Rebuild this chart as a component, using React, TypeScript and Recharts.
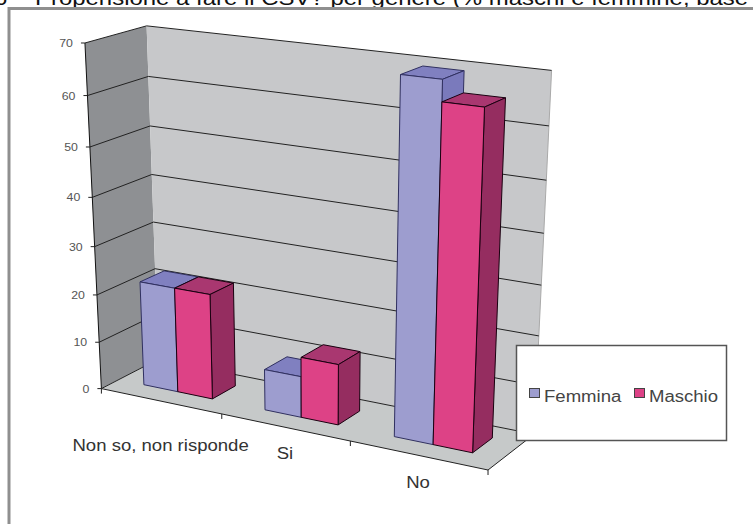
import React from "react";
import { BarChart, Bar, XAxis, YAxis, Legend } from "recharts";

// Chart data
const categories = ["Non so, non risponde", "Si", "No"];
const femmina = [22, 8.5, 69.5];
const maschio = [22, 12.5, 65.5];
const yTicks = [0, 10, 20, 30, 40, 50, 60, 70];
const rows = categories.map((name, i) => ({ name, Femmina: femmina[i], Maschio: maschio[i] }));

const CHART_W = 753;
const CHART_H = 524;
const Y_MAX = 70;
const SANS = "'Liberation Sans', Arial, sans-serif";

// Room calibration: [across, depth, height (0-1), screen x, screen y]
const calibration: number[][] = [
  [0, 0, 1, 84, 43], [0, 0, 6 / 7, 87.3, 96], [0, 0, 5 / 7, 89.7, 147], [0, 0, 4 / 7, 92.3, 197],
  [0, 0, 3 / 7, 94.5, 246.7], [0, 0, 2 / 7, 97, 294.3], [0, 0, 1 / 7, 100, 341.3], [0, 0, 0, 102, 388],
  [0, 1, 1, 147, 26], [0, 1, 6 / 7, 148.5, 77], [0, 1, 5 / 7, 150, 126], [0, 1, 4 / 7, 152, 174],
  [0, 1, 3 / 7, 153.5, 221.5], [0, 1, 2 / 7, 155, 269], [0, 1, 1 / 7, 157, 314], [0, 1, 0, 157, 360],
  [1, 1, 1, 551.7, 70.7], [1, 1, 6 / 7, 549.3, 126], [1, 1, 5 / 7, 546.3, 180], [1, 1, 4 / 7, 543.7, 233.3],
  [1, 1, 3 / 7, 541.7, 284.7], [1, 1, 2 / 7, 538.7, 335.3], [1, 1, 1 / 7, 536, 386],
  [1 / 3, 0, 0, 222, 416], [2 / 3, 0, 0, 350, 442], [1, 0, 0, 488, 469],
];

// Least-squares fit of the 11-parameter perspective camera
function fitCamera(pts: number[][]): number[] {
  const n = 11;
  const A: number[][] = Array.from({ length: n }, () => new Array(n + 1).fill(0));
  const addRow = (row: number[], rhs: number) => {
    for (let i = 0; i < n; i++) {
      for (let j = 0; j < n; j++) A[i][j] += row[i] * row[j];
      A[i][n] += row[i] * rhs;
    }
  };
  for (const [u, v, w, x, y] of pts) {
    addRow([u, v, w, 1, 0, 0, 0, 0, -x * u, -x * v, -x * w], x);
    addRow([0, 0, 0, 0, u, v, w, 1, -y * u, -y * v, -y * w], y);
  }
  for (let c = 0; c < n; c++) {
    let best = c;
    for (let r = c + 1; r < n; r++) if (Math.abs(A[r][c]) > Math.abs(A[best][c])) best = r;
    [A[c], A[best]] = [A[best], A[c]];
    for (let r = 0; r < n; r++) {
      if (r === c) continue;
      const f = A[r][c] / A[c][c];
      for (let k = c; k <= n; k++) A[r][k] -= f * A[c][k];
    }
  }
  return A.map((row, i) => row[n] / row[i]);
}

const cam = fitCamera(calibration);
const project = (u: number, v: number, w: number): [number, number] => {
  const d = cam[8] * u + cam[9] * v + cam[10] * w + 1;
  return [
    (cam[0] * u + cam[1] * v + cam[2] * w + cam[3]) / d,
    (cam[4] * u + cam[5] * v + cam[6] * w + cam[7]) / d,
  ];
};
const poly = (pts: [number, number][]) => pts.map((p) => p.map((c) => c.toFixed(1)).join(",")).join(" ");
const seg = (a: [number, number], b: [number, number], stroke: string, width = 1, key?: string | number) => (
  <line key={key} x1={a[0]} y1={a[1]} x2={b[0]} y2={b[1]} stroke={stroke} strokeWidth={width} />
);

// Walls, floor, gridlines and the page frame behind the bars
function Room() {
  return (
    <g>
      <text transform="translate(-6,5) scale(1.198,1)" fontFamily={SANS} fontSize={20} fill="#111">6</text>
      <text transform="translate(35,5) scale(1.198,1)" fontFamily={SANS} fontSize={20} fill="#111">
        Propensione a fare il CSV? per genere (% maschi e femmine, base 100)
      </text>
      <path d="M9 524 V8.5 H753" fill="none" stroke="#8f8f8f" strokeWidth={3} />
      <polygon points={poly([project(0, 0, 0), project(0, 1, 0), project(0, 1, 1), project(0, 0, 1)])} fill="#8e9093" />
      <polygon points={poly([project(0, 1, 0), project(1, 1, 0), project(1, 1, 1), project(0, 1, 1)])} fill="#c7c8ca" />
      <polygon points={poly([project(0, 0, 0), project(1, 0, 0), project(1, 1, 0), project(0, 1, 0)])} fill="#c6c9c9" />
      {seg(project(1, 1, 0), project(1, 1, 1), "#a9a9a9")}
      {yTicks.map((t) => {
        const w = t / Y_MAX;
        return (
          <g key={t}>
            {seg(project(0, 0, w), project(0, 1, w), "#222")}
            {seg(project(0, 1, w), project(1, 1, w), "#222")}
          </g>
        );
      })}
      {seg(project(0, 0, 0), project(0, 0, 1), "#111")}
      {seg(project(0, 0, 0), project(1, 0, 0), "#222")}
      {seg(project(1, 0, 0), project(1, 1, 0), "#222")}
      {[0, 1, 2, 3].map((i) => {
        const a = project(i / 3, 0, 0);
        return seg(a, [a[0], a[1] + 5], "#222", 1, i);
      })}
    </g>
  );
}

type Palette = { front: string; top: string; side: string; edge: string };
const femminaPalette: Palette = { front: "#9d9dcf", top: "#8080c0", side: "#7a7abc", edge: "#303060" };
const maschioPalette: Palette = { front: "#dd4286", top: "#a93770", side: "#952d60", edge: "#1a0010" };

const DEPTH_NEAR = 0.3;
const DEPTH_FAR = 0.72;

// Turns the flat rectangle laid out by the bar series into a box on the floor of the room
function Box3D(props: any & { palette: Palette }) {
  const { x, y, width, palette } = props;
  const u0 = x / CHART_W;
  const u1 = (x + width) / CHART_W;
  const w = (CHART_H - y) / CHART_H;
  const a = project(u0, DEPTH_NEAR, 0);
  const b = project(u1, DEPTH_NEAR, 0);
  const c = project(u1, DEPTH_NEAR, w);
  const d = project(u0, DEPTH_NEAR, w);
  const e = project(u1, DEPTH_FAR, 0);
  const f = project(u1, DEPTH_FAR, w);
  const g = project(u0, DEPTH_FAR, w);
  const common = { stroke: palette.edge, strokeWidth: 1, strokeLinejoin: "round" as const };
  return (
    <g>
      <polygon points={poly([d, c, f, g])} fill={palette.top} {...common} />
      <polygon points={poly([b, e, f, c])} fill={palette.side} {...common} />
      <polygon points={poly([a, b, c, d])} fill={palette.front} {...common} />
    </g>
  );
}

function ValueTick({ y, payload }: any) {
  const w = (CHART_H - y) / CHART_H;
  const p = project(0, 0, w);
  return (
    <g>
      {seg(p, [p[0] - 4, p[1]], "#222")}
      <text
        transform={`translate(${p[0] - 12},${p[1] + 4}) scale(1.12,1)`}
        textAnchor="end"
        fontFamily={SANS}
        fontSize={11}
        fill="#555"
      >
        {String(payload.value)}
      </text>
    </g>
  );
}

// Excel staggers the first category label further below the floor
const labelDrop: Record<string, number> = { "Non so, non risponde": 50, Si: 32, No: 33 };

function CategoryTick({ x, payload }: any) {
  const p = project(x / CHART_W, 0, 0);
  return (
    <text
      transform={`translate(${p[0]},${p[1] + labelDrop[payload.value]}) scale(1.16,1)`}
      textAnchor="middle"
      fontFamily={SANS}
      fontSize={16}
      fill="#333"
    >
      {payload.value}
    </text>
  );
}

function LegendBox({ payload }: any) {
  const slots = [{ sx: 529.5, tx: 544 }, { sx: 634.5, tx: 649 }];
  return (
    <svg width={CHART_W} height={CHART_H} style={{ position: "absolute", left: 0, top: 0, pointerEvents: "none" }}>
      <rect x={516.5} y={345.5} width={210} height={95} fill="#fff" stroke="#555" strokeWidth={1.5} />
      {(payload ?? []).map((item: any, i: number) => (
        <g key={item.value}>
          <rect x={slots[i].sx} y={388.5} width={10} height={9} fill={item.color} stroke="#444" strokeWidth={1} />
          <text
            transform={`translate(${slots[i].tx},402) scale(1.16,1)`}
            fontFamily={SANS}
            fontSize={16}
            fill="#444"
          >
            {item.value}
          </text>
        </g>
      ))}
    </svg>
  );
}

export default function App() {
  return (
    <div style={{ position: "absolute", left: 0, top: 0, width: CHART_W, height: CHART_H, overflow: "hidden" }}>
      <BarChart
        width={CHART_W}
        height={CHART_H}
        data={rows}
        margin={{ top: 0, right: 0, bottom: 0, left: 0 }}
        barCategoryGap="21.43%"
        barGap={0}
        style={{ overflow: "visible" }}
      >
        <Room />
        <XAxis dataKey="name" mirror height={30} axisLine={false} tickLine={false} tick={<CategoryTick />} interval={0} />
        <YAxis mirror width={60} domain={[0, Y_MAX]} ticks={yTicks} interval={0} axisLine={false} tickLine={false} tick={<ValueTick />} />
        <Legend
          layout="horizontal"
          verticalAlign="middle"
          align="center"
          content={<LegendBox />}
          wrapperStyle={{ left: 0, top: 0, width: CHART_W, height: CHART_H }}
        />
        <Bar
          dataKey="Femmina"
          fill={femminaPalette.front}
          isAnimationActive={false}
          shape={(p: any) => <Box3D {...p} palette={femminaPalette} />}
        />
        <Bar
          dataKey="Maschio"
          fill={maschioPalette.front}
          isAnimationActive={false}
          shape={(p: any) => <Box3D {...p} palette={maschioPalette} />}
        />
      </BarChart>
    </div>
  );
}
